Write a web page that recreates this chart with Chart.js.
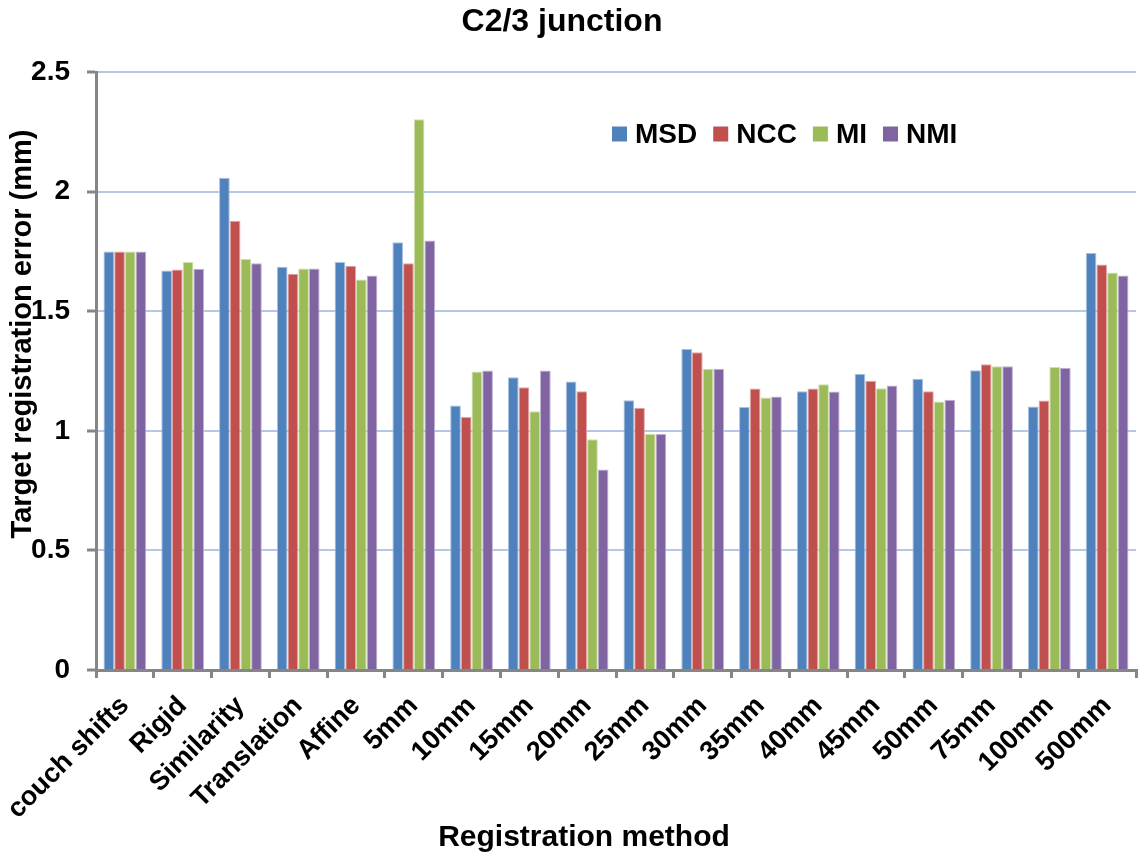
<!DOCTYPE html>
<html>
<head>
<meta charset="utf-8">
<title>C2/3 junction</title>
<script src="https://cdn.jsdelivr.net/npm/chart.js@4.4.0/dist/chart.umd.min.js"></script>
<style>
  html, body { margin: 0; padding: 0; background: #fff; }
  #wrap { width: 1138px; height: 856px; }
</style>
</head>
<body>
<div id="wrap"><canvas id="grafica" width="1138" height="856"></canvas></div>
<script>
// metodos de registro (eje x)
const metodos = ["couch shifts", "Rigid", "Similarity", "Translation", "Affine",
  "5mm", "10mm", "15mm", "20mm", "25mm", "30mm", "35mm", "40mm", "45mm",
  "50mm", "75mm", "100mm", "500mm"];

// error de registro (mm) por metrica
const msd = [1.75, 1.67, 2.058, 1.686, 1.706, 1.788, 1.106, 1.224, 1.206, 1.128,
  1.342, 1.099, 1.165, 1.238, 1.218, 1.253, 1.102, 1.743];
const ncc = [1.75, 1.674, 1.878, 1.657, 1.69, 1.70, 1.058, 1.182, 1.165, 1.096,
  1.328, 1.177, 1.177, 1.209, 1.165, 1.278, 1.127, 1.695];
const mi = [1.75, 1.706, 1.718, 1.678, 1.633, 2.302, 1.248, 1.082, 0.965, 0.987,
  1.259, 1.139, 1.195, 1.178, 1.122, 1.270, 1.267, 1.662];
const nmi = [1.75, 1.677, 1.70, 1.678, 1.649, 1.796, 1.252, 1.252, 0.838, 0.987,
  1.259, 1.143, 1.164, 1.189, 1.130, 1.270, 1.264, 1.649];

const series = [
  { label: "MSD", data: msd, color: "#4f81bd", edge: "#a7c0e0" },
  { label: "NCC", data: ncc, color: "#c0504d", edge: "#e2a6a4" },
  { label: "MI", data: mi, color: "#9bbb59", edge: "#cfe0ad" },
  { label: "NMI", data: nmi, color: "#8064a2", edge: "#c0b2d2" }
];

const fuente = "'Liberation Sans', Arial, sans-serif";
const gris = "#868686";

// titulos, ejes y leyenda dibujados a mano
const extras = {
  id: "extras",
  afterDraw(chart) {
    const ctx = chart.ctx;
    ctx.save();
    ctx.fillStyle = "#000";
    ctx.textBaseline = "middle";

    ctx.font = "bold 32px " + fuente;
    ctx.textAlign = "center";
    ctx.fillText("C2/3 junction", 562, 22);

    ctx.font = "bold 30px " + fuente;
    ctx.fillText("Registration method", 584, 838);

    ctx.save();
    ctx.translate(23, 334);
    ctx.rotate(-Math.PI / 2);
    ctx.font = "bold 29px " + fuente;
    ctx.fillText("Target registration error (mm)", 0, 0);
    ctx.restore();

    // leyenda
    ctx.font = "bold 28px " + fuente;
    ctx.textAlign = "left";
    let x = 612;
    const y = 134;
    chart.data.datasets.forEach(ds => {
      ctx.fillStyle = ds.backgroundColor;
      ctx.fillRect(x, y - 7.5, 15, 15);
      ctx.fillStyle = "#000";
      ctx.fillText(ds.label, x + 23, y + 1);
      x += 23 + ctx.measureText(ds.label).width + 16;
    });
    ctx.restore();
  }
};

new Chart(document.getElementById("grafica").getContext("2d"), {
  type: "bar",
  data: {
    labels: metodos,
    datasets: series.map(s => ({
      label: s.label,
      data: s.data,
      backgroundColor: s.color,
      borderColor: s.edge,
      borderWidth: 1,
      barPercentage: 1,
      categoryPercentage: 0.74
    }))
  },
  options: {
    responsive: false,
    animation: false,
    layout: { padding: { top: 72, right: 2, left: 0, bottom: 0 } },
    plugins: {
      legend: { display: false },
      title: { display: false },
      tooltip: { enabled: false }
    },
    scales: {
      x: {
        afterFit: s => {
          s.height = 186;
          s.paddingLeft = 0;
          s.paddingRight = 0;
        },
        border: { color: gris, width: 3 },
        grid: {
          drawOnChartArea: false,
          color: gris,
          lineWidth: 3,
          tickLength: 8
        },
        ticks: {
          minRotation: 45,
          maxRotation: 45,
          autoSkip: false,
          padding: 12,
          color: "#000",
          font: { family: fuente, size: 27, weight: "bold" }
        }
      },
      y: {
        min: 0,
        max: 2.5,
        afterFit: s => { s.width = 96; },
        border: { color: gris, width: 3 },
        grid: {
          color: "#b4c8e6",
          lineWidth: 2,
          tickColor: gris,
          tickWidth: 3,
          tickLength: 9
        },
        ticks: {
          stepSize: 0.5,
          padding: 17,
          color: "#000",
          font: { family: fuente, size: 28, weight: "bold" },
          callback: v => String(Math.round(v * 10) / 10)
        }
      }
    }
  },
  plugins: [extras]
});
</script>
</body>
</html>
